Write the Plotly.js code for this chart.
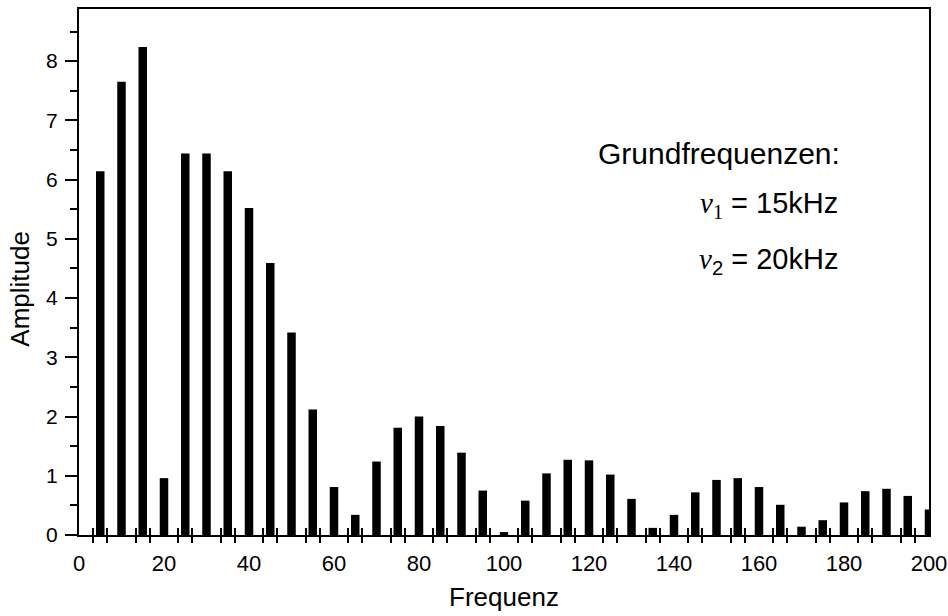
<!DOCTYPE html>
<html>
<head>
<meta charset="utf-8">
<script src="https://cdn.plot.ly/plotly-3.0.1.min.js"></script>
<style>html,body{margin:0;padding:0;background:#fff;}#chart{width:948px;height:616px;}</style>
</head>
<body>
<div id="chart"></div>
<script>
// Data
const frequencies = [5,10,15,20,25,30,35,40,45,50,55,60,65,70,75,80,85,90,95,100,105,110,115,120,125,130,135,140,145,150,155,160,165,170,175,180,185,190,195,200];
const amplitudes  = [6.14,7.65,8.24,0.96,6.44,6.44,6.14,5.52,4.59,3.42,2.12,0.81,0.34,1.24,1.81,2.00,1.84,1.39,0.75,0.05,0.58,1.04,1.27,1.26,1.02,0.61,0.12,0.34,0.72,0.93,0.96,0.81,0.51,0.14,0.25,0.55,0.74,0.78,0.66,0.43];
const xTickVals = [0,20,40,60,80,100,120,140,160,180,200];
const xTickText = ['0','20','40','60','80','100','120','140','160','180','200'];
const yTickVals = [0,1,2,3,4,5,6,7,8];
const yTickText = ['0','1','2','3','4','5','6','7','8'];
const xTitle = 'Frequenz';
const yTitle = 'Amplitude';
const noteLines = [
  'Grundfrequenzen:',
  '<span style="font-family:\'Liberation Serif\',\'Times New Roman\',serif"><i>ν</i><sub>1</sub></span> = 15kHz',
  '<span style="font-family:\'Liberation Serif\',\'Times New Roman\',serif"><i>ν</i></span><sub>2</sub> = 20kHz'
];

// small tick marks on the frequency axis (every 10/3, skipping multiples of 10)
const xMinorTicks = [];
for (let i = 1; i < 60; i++) { if (i % 3 !== 0) xMinorTicks.push(i * 10 / 3); }

const FONT = 'Arial, "Liberation Sans", Helvetica, sans-serif';

const traces = [
  {
    type: 'bar',
    x: frequencies,
    y: amplitudes,
    width: 2,
    marker: {color: '#000000', line: {width: 0}},
    hoverinfo: 'x+y'
  },
  {type: 'scatter', mode: 'markers', x: [], y: [], xaxis: 'x2', yaxis: 'y', showlegend: false, hoverinfo: 'skip'},
  {type: 'scatter', mode: 'markers', x: [], y: [], xaxis: 'x3', yaxis: 'y', showlegend: false, hoverinfo: 'skip'}
];

const tickAxis = (dir) => ({
  overlaying: 'x', anchor: 'y', side: 'bottom',
  range: [0, 200],
  tickmode: 'array', tickvals: xMinorTicks,
  ticks: dir, ticklen: 7, tickwidth: 2, tickcolor: '#000',
  showticklabels: false, showline: false, showgrid: false, zeroline: false
});

const layout = {
  width: 948, height: 616,
  margin: {l: 79, r: 19, t: 9, b: 81},
  paper_bgcolor: '#ffffff', plot_bgcolor: '#ffffff',
  showlegend: false,
  font: {family: FONT, color: '#000000'},
  xaxis: {
    range: [0, 200],
    tickmode: 'array', tickvals: xTickVals, ticktext: xTickText,
    ticks: 'outside', ticklen: 8, tickwidth: 2, tickcolor: 'rgba(0,0,0,0)',
    tickfont: {family: FONT, size: 22, color: '#000'},
    showline: true, linecolor: '#000', linewidth: 2, mirror: true,
    showgrid: false, zeroline: false,
    title: {text: xTitle, font: {family: FONT, size: 26, color: '#000'}, standoff: 12}
  },
  xaxis2: tickAxis('inside'),
  xaxis3: tickAxis('outside'),
  yaxis: {
    range: [0, 8.88],
    tickmode: 'array', tickvals: yTickVals, ticktext: yTickText,
    ticks: 'outside', ticklen: 12, tickwidth: 2, tickcolor: '#000',
    ticklabelstandoff: 3,
    tickfont: {family: FONT, size: 21, color: '#000'},
    minor: {dtick: 0.5, tick0: 0, ticks: 'outside', ticklen: 7, tickwidth: 2, tickcolor: '#000', showgrid: false},
    showline: true, linecolor: '#000', linewidth: 2, mirror: true,
    showgrid: false, zeroline: false,
    title: {text: ''}
  },
  annotations: [
    {xref: 'paper', yref: 'paper', x: -0.069, y: 0.469, xanchor: 'center', yanchor: 'middle', textangle: -90, showarrow: false,
     text: yTitle, font: {family: FONT, size: 26, color: '#000'}},
    {xref: 'paper', yref: 'paper', x: 0.898, y: 0.726, xanchor: 'right', yanchor: 'middle', showarrow: false,
     text: noteLines[0], font: {family: FONT, size: 30, color: '#000'}},
    {xref: 'paper', yref: 'paper', x: 0.895, y: 0.627, xanchor: 'right', yanchor: 'middle', showarrow: false,
     text: noteLines[1], font: {family: FONT, size: 29, color: '#000'}},
    {xref: 'paper', yref: 'paper', x: 0.895, y: 0.521, xanchor: 'right', yanchor: 'middle', showarrow: false,
     text: noteLines[2], font: {family: FONT, size: 29, color: '#000'}}
  ]
};

Plotly.newPlot('chart', traces, layout, {displayModeBar: false, staticPlot: true});
</script>
</body>
</html>
